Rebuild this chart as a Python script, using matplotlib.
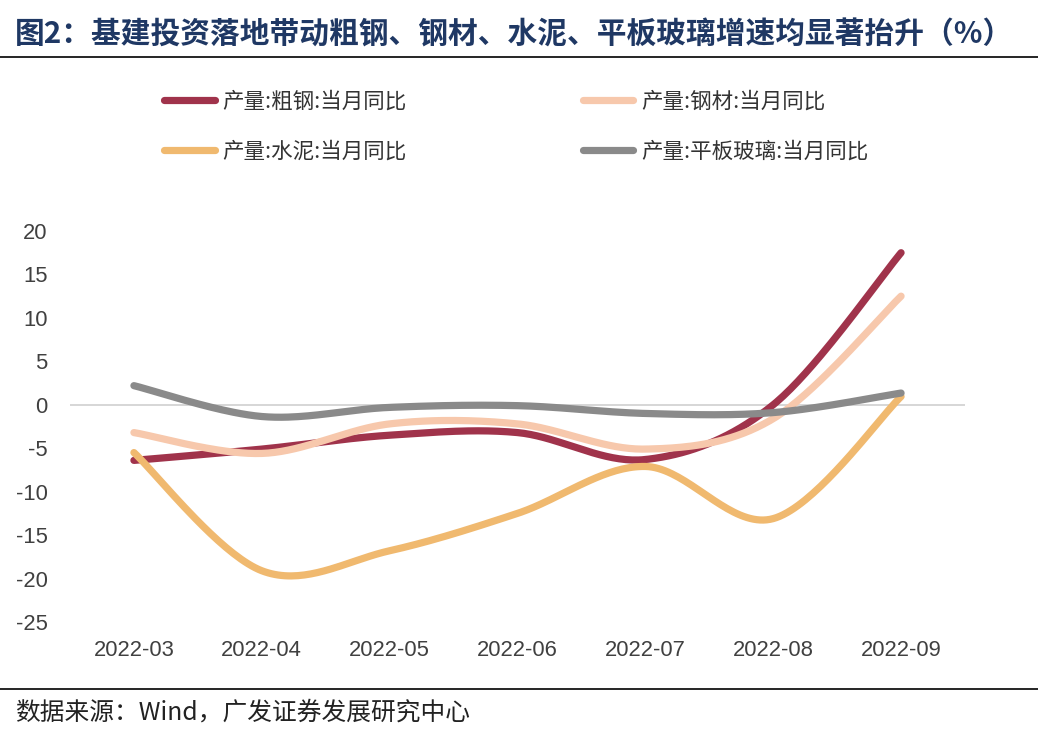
import numpy as np
import matplotlib
matplotlib.use("Agg")
import matplotlib.pyplot as plt
from matplotlib.lines import Line2D

plt.rcParams['font.family'] = ['Liberation Sans', 'Noto Sans CJK SC', 'DejaVu Sans']

months = ["2022-03", "2022-04", "2022-05", "2022-06", "2022-07", "2022-08", "2022-09"]
crude_steel = [-6.4, -5.1, -3.5, -3.2, -6.3, 0.0, 17.5]
steel_products = [-3.2, -5.6, -2.2, -2.2, -5.1, -1.6, 12.5]
cement = [-5.5, -19.1, -16.8, -12.5, -7.1, -13.1, 0.95]
flat_glass = [2.2, -1.35, -0.3, -0.1, -1.0, -0.9, 1.35]

series_names = ["产量:粗钢:当月同比", "产量:钢材:当月同比", "产量:水泥:当月同比", "产量:平板玻璃:当月同比"]
colors = ["#A0334B", "#F7C8AC", "#F0B96F", "#8A8A8A"]
yticks = [-25, -20, -15, -10, -5, 0, 5, 10, 15, 20]

title = "图2：基建投资落地带动粗钢、钢材、水泥、平板玻璃增速均显著抬升（%）"
source = "数据来源：Wind，广发证券发展研究中心"


def smooth(y, n=40):
    """Excel-style smoothed line through the data points (cubic Bezier segments)."""
    y = np.asarray(y, dtype=float)
    x = np.arange(len(y), dtype=float)
    P = np.column_stack([x, y])
    Pext = np.vstack([P[0], P, P[-1]])
    xs, ys = [], []
    t = np.linspace(0, 1, n)
    for i in range(len(P) - 1):
        p0 = P[i]
        p3 = P[i + 1]
        c1 = p0 + (Pext[i + 2] - Pext[i]) / 6.0
        c2 = p3 - (Pext[i + 3] - Pext[i + 1]) / 6.0
        b = ((1 - t) ** 3)[:, None] * p0 + (3 * (1 - t) ** 2 * t)[:, None] * c1 \
            + (3 * (1 - t) * t ** 2)[:, None] * c2 + (t ** 3)[:, None] * p3
        xs.append(b[:, 0])
        ys.append(b[:, 1])
    return np.concatenate(xs), np.concatenate(ys)


fig = plt.figure(figsize=(10.38, 7.43), dpi=100)
ax = fig.add_axes([70 / 1038, 121 / 743, 895 / 1038, 391 / 743])

ax.axhline(0, color="#D0D0D0", lw=1.2, zorder=1)

data = [crude_steel, steel_products, cement, flat_glass]
order = [2, 1, 0, 3]
for idx in order:
    xs, ys = smooth(data[idx])
    ax.plot(xs, ys, color=colors[idx], lw=5.2, solid_capstyle='round', zorder=2 + idx)
handles = [Line2D([0], [0], color=colors[idx], lw=5.2, solid_capstyle='round') for idx in range(4)]

ax.set_xlim(-0.5, 6.5)
ax.set_ylim(-25, 20)
ax.set_xticks(range(len(months)))
ax.set_xticklabels(months)
ax.set_yticks(yticks)
ax.set_yticklabels([str(v) for v in yticks])
ax.tick_params(axis='both', length=0, labelsize=15.8, colors="#404040")
ax.tick_params(axis='y', pad=16)
ax.tick_params(axis='x', pad=13)
for s in ax.spines.values():
    s.set_visible(False)

# legend filled row by row: (粗钢, 钢材) / (水泥, 平板玻璃)
leg_order = [0, 2, 1, 3]
leg = fig.legend([handles[i] for i in leg_order], [series_names[i] for i in leg_order],
                 loc='upper left', bbox_to_anchor=(145 / 1038, 1 - 71 / 743),
                 ncol=2, frameon=False, handlelength=2.35, handletextpad=0.35,
                 columnspacing=8.18, labelspacing=1.33,
                 prop={'family': ['Noto Sans CJK SC', 'DejaVu Sans'], 'size': 15.5})
for t in leg.get_texts():
    t.set_color("#333333")

fig.text(15 / 1038, 1 - 35 / 743, title, fontsize=21.4, fontweight='bold', color="#1F3864",
         va='center', ha='left', family=['Noto Sans CJK SC', 'DejaVu Sans'])
fig.add_artist(Line2D([0, 1], [1 - 57 / 743, 1 - 57 / 743], color="black", lw=1.2))
fig.add_artist(Line2D([0, 1], [1 - 689 / 743, 1 - 689 / 743], color="black", lw=1.2))
fig.text(15 / 1038, 1 - 713 / 743, source, fontsize=17.8, color="#222222",
         va='center', ha='left', family=['Noto Sans CJK SC', 'DejaVu Sans'])

fig.savefig("out.png", dpi=100)
